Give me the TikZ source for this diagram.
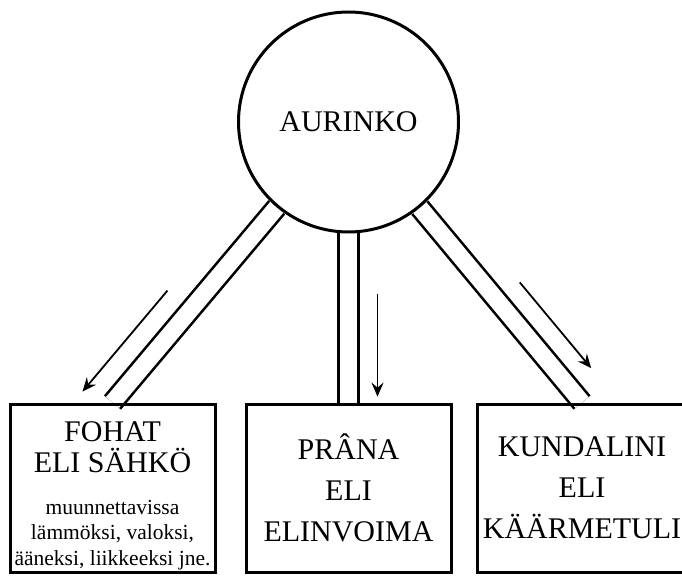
\documentclass[tikz,border=0pt]{standalone}
\usepackage{fontspec}
\setmainfont{Liberation Serif}
\usetikzlibrary{positioning,calc,arrows.meta}
\pgfdeclarelayer{background}
\pgfsetlayers{background,main}
\tikzset{
  sun/.style={circle,draw,line width=3pt,minimum size=220pt,inner sep=0pt,
    font=\fontsize{30}{36}\selectfont},
  force/.style={rectangle,draw,line width=3pt,minimum width=205pt,minimum height=168pt,
    text width=205pt,inner sep=0pt,align=flush center,font=\fontsize{30}{41}\selectfont},
  tube/.style={line width=2.6pt,double distance=17pt},
  flow/.style={line width=1.8pt,-{Stealth[length=14pt,width=12pt,inset=5pt]}}
}

\begin{document}
\begin{tikzpicture}[x=1pt,y=1pt]
\useasboundingbox (0,0) rectangle (682,576);
% boxes
\node[force] (fohat) at (112.5,88) {\begin{minipage}{205pt}\centering
  \vspace*{16pt}\fontsize{30}{31}\selectfont FOHAT\\ELI SÄHKÖ\par
  \vspace{16pt}\fontsize{21.5}{25.5}\selectfont muunnettavissa\\lämmöksi, valoksi,\\ääneksi, liikkeeksi jne.\par
  \end{minipage}};
\node[force,right=28pt of fohat] (prana) {PRÂNA\\ELI\\ELINVOIMA};
\node[force,right=23pt of prana,minimum width=210pt] (kundalini) {KUNDALINI\\ELI\\KÄÄRMETULI};
% sun
\node[sun,above=169pt of prana] (sun) {AURINKO};
\begin{pgfonlayer}{background}
% tubes
\draw[tube] (sun) -- (fohat.north);
\draw[tube] (sun) -- (prana.north);
\draw[tube] (sun) -- (kundalini.north);
\end{pgfonlayer}
% arrows
\draw[flow] ($(sun.center)!0.67!(fohat.north)!30pt!90:(sun.center)$)
  -- ($(sun.center)!1.03!(fohat.north)!30pt!90:(sun.center)$);
\draw[flow] ($(sun.center)!0.613!(prana.north)!29pt!-90:(sun.center)$)
  -- ($(sun.center)!0.979!(prana.north)!29pt!-90:(sun.center)$);
\draw[flow] ($(sun.center)!0.638!(kundalini.north)!29pt!-90:(sun.center)$)
  -- ($(sun.center)!0.944!(kundalini.north)!29pt!-90:(sun.center)$);
\end{tikzpicture}
\end{document}
